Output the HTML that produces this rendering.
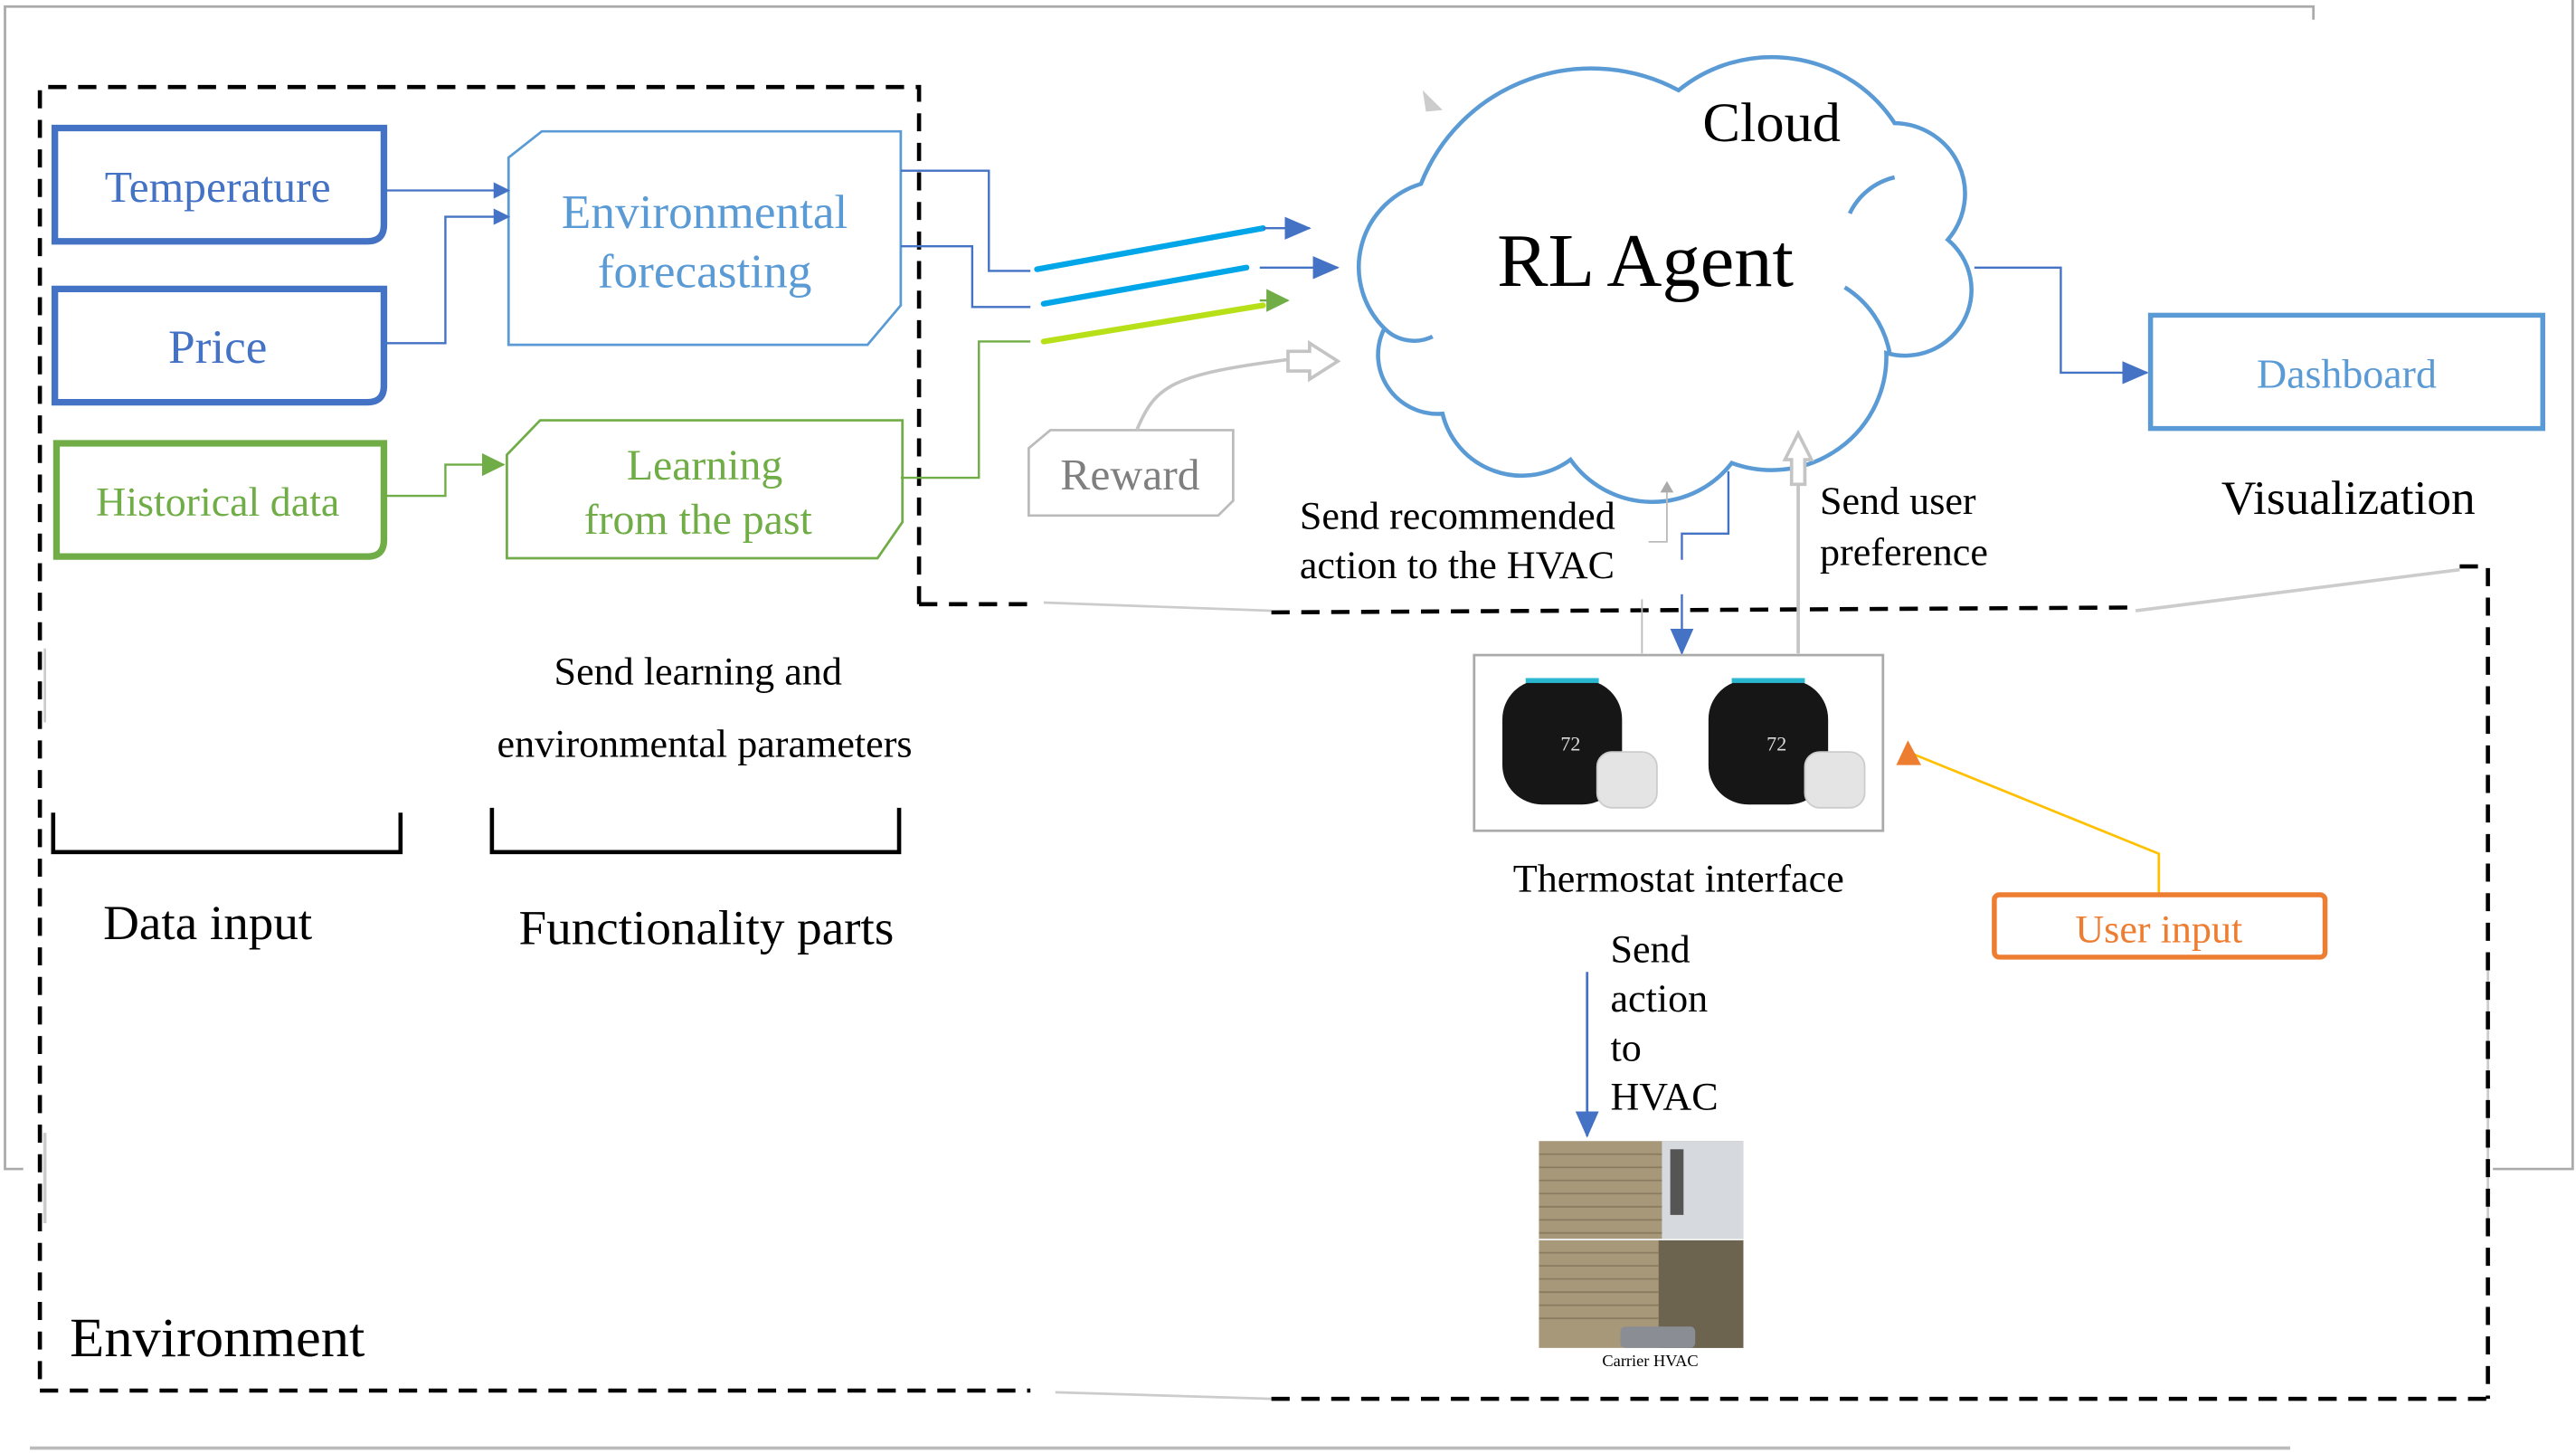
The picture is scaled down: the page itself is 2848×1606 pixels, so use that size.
<!DOCTYPE html>
<html><head><meta charset="utf-8"><style>
html,body{margin:0;padding:0;background:#fff;}
svg{display:block;}
text{font-family:"Liberation Serif",serif;}
</style></head><body>
<svg width="2848" height="1606" viewBox="0 0 1550 885" preserveAspectRatio="none" xmlns="http://www.w3.org/2000/svg">
<defs>
<marker id="ab" markerWidth="10" markerHeight="10" refX="9" refY="5" orient="auto" markerUnits="userSpaceOnUse"><path d="M0,0 L10,5 L0,10 Z" fill="#4472C4"/></marker>
<marker id="abL" markerWidth="16" markerHeight="14" refX="15" refY="7" orient="auto" markerUnits="userSpaceOnUse"><path d="M0,0 L16,7 L0,14 Z" fill="#4472C4"/></marker>
<marker id="ag" markerWidth="14" markerHeight="14" refX="13" refY="7" orient="auto" markerUnits="userSpaceOnUse"><path d="M0,0 L14,7 L0,14 Z" fill="#70AD47"/></marker>
</defs>
<rect width="1550" height="885" fill="#fff"/>
<g stroke="#aaa" stroke-width="1.5" fill="none">
<polyline points="14,712 3,712 3,4 1392,4 1392,12"/>
<polyline points="1548,0 1548,712 1500,712"/>
<line x1="18" y1="882" x2="1378" y2="882" stroke="#bbb" stroke-width="2"/>
<line x1="628" y1="367" x2="765" y2="372" stroke="#ccc"/>
<line x1="1285" y1="372" x2="1480" y2="347" stroke="#ccc" stroke-width="2"/>
<line x1="635" y1="848" x2="765" y2="852" stroke="#ccc"/>
<line x1="1497" y1="590" x2="1497" y2="745" stroke="#ccc"/>
<line x1="27" y1="690" x2="27" y2="745" stroke="#ccc" stroke-width="2"/>
<line x1="27" y1="395" x2="27" y2="440" stroke="#ccc"/>
</g>
<g stroke="#000" stroke-width="2.5" fill="none" stroke-dasharray="11,7">
<polyline points="553,368 553,53 24,53 24,847 620,847"/>
<line x1="553" y1="368" x2="625" y2="368"/>
<line x1="765" y1="373" x2="1285" y2="370"/>
<line x1="765" y1="852" x2="1497" y2="852"/>
<polyline points="1480,345 1497,345 1497,852"/>
</g>
<g fill="#fff" stroke-width="4">
<path d="M33,78 H231 V137 Q231,147 221,147 H33 Z" stroke="#4472C4"/>
<path d="M33,176 H231 V235 Q231,245 221,245 H33 Z" stroke="#4472C4"/>
<path d="M34,270 H231 V329 Q231,339 221,339 H34 Z" stroke="#70AD47"/>
</g>
<g font-size="27" fill="#4472C4" text-anchor="middle">
<text x="131" y="123">Temperature</text>
<text x="131" y="221" font-size="29">Price</text>
</g>
<text x="131" y="314" font-size="25" fill="#70AD47" text-anchor="middle">Historical data</text>
<path d="M326,80 H542 V186 L522,210 H306 V96 Z" fill="#fff" stroke="#5B9BD5" stroke-width="1.5"/>
<path d="M325,256 H543 V318 L528,340 H305 V277 Z" fill="#fff" stroke="#70AD47" stroke-width="1.5"/>
<g font-size="29" fill="#5B9BD5" text-anchor="middle"><text x="424" y="139">Environmental</text><text x="424" y="175">forecasting</text></g>
<g font-size="26" fill="#70AD47" text-anchor="middle"><text x="424" y="292">Learning</text><text x="420" y="325">from the past</text></g>
<g fill="none" stroke-width="1.3">
<line x1="231" y1="116" x2="306" y2="116" stroke="#4472C4" marker-end="url(#ab)"/>
<polyline points="231,209 268,209 268,132 306,132" stroke="#4472C4" marker-end="url(#ab)"/>
<polyline points="231,302 268,302 268,283 303,283" stroke="#70AD47" marker-end="url(#ag)"/>
<polyline points="542,104 595,104 595,165 620,165" stroke="#4472C4"/>
<polyline points="542,150 585,150 585,187 620,187" stroke="#4472C4"/>
<polyline points="542,291 589,291 589,208 620,208" stroke="#70AD47"/>
</g>
<g stroke-width="3.5" stroke-linecap="round">
<line x1="624" y1="164" x2="760" y2="139" stroke="#00A6E8"/>
<line x1="628" y1="185" x2="750" y2="163" stroke="#00A6E8"/>
<line x1="628" y1="208" x2="760" y2="186" stroke="#B8E019"/>
</g>
<g stroke-width="1.3">
<line x1="760" y1="139" x2="788" y2="139" stroke="#4472C4" marker-end="url(#abL)"/>
<line x1="758" y1="163" x2="805" y2="163" stroke="#4472C4" marker-end="url(#abL)"/>
<line x1="758" y1="183" x2="775" y2="183" stroke="#70AD47" marker-end="url(#ag)"/>
</g>
<path d="M632,262 H742 V305 L733,314 H619 V273 Z" fill="#fff" stroke="#bbb" stroke-width="1.5"/>
<text x="680" y="298" font-size="27" fill="#7f7f7f" text-anchor="middle">Reward</text>
<path d="M684,262 C695,235 705,228 775,219" fill="none" stroke="#c4c4c4" stroke-width="2"/>
<path d="M775,214 H788 V209 L805,220 L788,231 V226 H775 Z" fill="#fff" stroke="#c4c4c4" stroke-width="2"/>
<path d="M856,55 L868,67 L858,68 Z" fill="#ccc"/>
<!-- cloud -->
<path d="M855,112 A110,110 0 0 1 1010,55 A88,88 0 0 1 1140,75 A43,43 0 0 1 1172,146 A40,40 0 0 1 1135,215 A69,69 0 0 1 1042,282 A60,60 0 0 1 945,280 A49,49 0 0 1 868,252 A36,36 0 0 1 833,200 A53,53 0 0 1 855,112 Z" fill="#fff" stroke="#5B9BD5" stroke-width="2.5"/>
<g fill="none" stroke="#5B9BD5" stroke-width="2.5">
<path d="M1110,175 A60,60 0 0 1 1137,215"/>
<path d="M833,200 A25,25 0 0 0 862,205"/>
<path d="M1140,108 A40,40 0 0 0 1113,130"/>
</g>
<text x="1066" y="86" font-size="34" text-anchor="middle">Cloud</text>
<text x="990" y="174" font-size="46" text-anchor="middle">RL Agent</text>
<polyline points="1188,163 1240,163 1240,227 1292,227" fill="none" stroke="#4472C4" stroke-width="1.3" marker-end="url(#abL)"/>
<rect x="1294" y="192" width="236" height="69" fill="#fff" stroke="#5B9BD5" stroke-width="3"/>
<text x="1412" y="236" font-size="25" fill="#5B9BD5" text-anchor="middle">Dashboard</text>
<text x="1413" y="313" font-size="29" text-anchor="middle">Visualization</text>
<g font-size="24">
<text x="782" y="322">Send recommended</text>
<text x="782" y="352">action to the HVAC</text>
<text x="1095" y="313">Send user</text>
<text x="1095" y="344">preference</text>
</g>
<polyline points="1040,287 1040,325 1012,325 1012,341" fill="none" stroke="#4472C4" stroke-width="1.3"/>
<line x1="1012" y1="362" x2="1012" y2="398" stroke="#4472C4" stroke-width="1.3" marker-end="url(#abL)"/>
<polyline points="1003,300 1003,330 992,330" fill="none" stroke="#bbb" stroke-width="1"/>
<path d="M999,300 L1003,293 L1007,300 Z" fill="#aaa"/>
<line x1="988" y1="365" x2="988" y2="398" stroke="#bbb" stroke-width="1"/>
<line x1="1082" y1="295" x2="1082" y2="398" stroke="#c4c4c4" stroke-width="2"/>
<path d="M1078,295 V280 H1074 L1082,264 L1090,280 H1086 V295 Z" fill="#fff" stroke="#c4c4c4" stroke-width="2"/>
<rect x="887" y="399" width="246" height="107" fill="#fff" stroke="#aaa" stroke-width="1.5"/>
<g>
<rect x="904" y="414" width="72" height="76" rx="24" fill="#161616"/>
<rect x="918" y="413" width="44" height="3" fill="#2ab8d0"/>
<text x="945" y="457" font-size="12" fill="#ddd" text-anchor="middle" font-family="Liberation Sans,sans-serif">72</text>
<rect x="961" y="458" width="36" height="34" rx="9" fill="#e4e4e4" stroke="#ccc"/>
<rect x="1028" y="414" width="72" height="76" rx="24" fill="#161616"/>
<rect x="1042" y="413" width="44" height="3" fill="#2ab8d0"/>
<text x="1069" y="457" font-size="12" fill="#ddd" text-anchor="middle" font-family="Liberation Sans,sans-serif">72</text>
<rect x="1086" y="458" width="36" height="34" rx="9" fill="#e4e4e4" stroke="#ccc"/>
</g>
<text x="1010" y="543" font-size="24" text-anchor="middle">Thermostat interface</text>
<polyline points="1299,545 1299,520 1148,458" fill="none" stroke="#FFC000" stroke-width="1.5"/>
<path d="M1141,466 L1148,451 L1156,466 Z" fill="#ED7D31"/>
<rect x="1200" y="545" width="199" height="38" rx="3" fill="#fff" stroke="#ED7D31" stroke-width="3"/>
<text x="1299" y="574" font-size="24" fill="#ED7D31" text-anchor="middle">User input</text>
<g font-size="24"><text x="969" y="586">Send</text><text x="969" y="616">action</text><text x="969" y="646">to</text><text x="969" y="676">HVAC</text></g>
<line x1="955" y1="592" x2="955" y2="692" stroke="#4472C4" stroke-width="1.5" marker-end="url(#abL)"/>
<g>
<rect x="926" y="695" width="123" height="126" fill="#a8987a"/>
<rect x="1000" y="695" width="49" height="60" fill="#d6d9dd"/>
<rect x="998" y="755" width="51" height="66" fill="#6d6450"/>
<g stroke="#8a7c60" stroke-width="1">
<line x1="926" y1="703" x2="1000" y2="703"/><line x1="926" y1="711" x2="1000" y2="711"/><line x1="926" y1="719" x2="1000" y2="719"/><line x1="926" y1="727" x2="1000" y2="727"/><line x1="926" y1="735" x2="1000" y2="735"/><line x1="926" y1="743" x2="1000" y2="743"/><line x1="926" y1="751" x2="1000" y2="751"/><line x1="926" y1="763" x2="998" y2="763"/><line x1="926" y1="771" x2="998" y2="771"/><line x1="926" y1="779" x2="998" y2="779"/><line x1="926" y1="787" x2="998" y2="787"/><line x1="926" y1="795" x2="998" y2="795"/><line x1="926" y1="803" x2="998" y2="803"/>
</g>
<line x1="926" y1="755" x2="1049" y2="755" stroke="#eee" stroke-width="1"/>
<rect x="1005" y="700" width="8" height="40" fill="#555"/>
<rect x="975" y="808" width="45" height="13" rx="3" fill="#8a8e94"/>
</g>
<text x="993" y="832" font-size="10" text-anchor="middle" font-family="Liberation Sans,sans-serif">Carrier HVAC</text>
<polyline points="32,495 32,519 241,519 241,495" fill="none" stroke="#000" stroke-width="2.5"/>
<polyline points="296,492 296,519 541,519 541,492" fill="none" stroke="#000" stroke-width="2.5"/>
<g font-size="24" text-anchor="middle"><text x="420" y="417">Send learning and</text><text x="424" y="461">environmental parameters</text></g>
<text x="125" y="572" font-size="30" text-anchor="middle">Data input</text>
<text x="425" y="575" font-size="30" text-anchor="middle">Functionality parts</text>
<text x="42" y="826" font-size="34">Environment</text>
</svg>
</body></html>
